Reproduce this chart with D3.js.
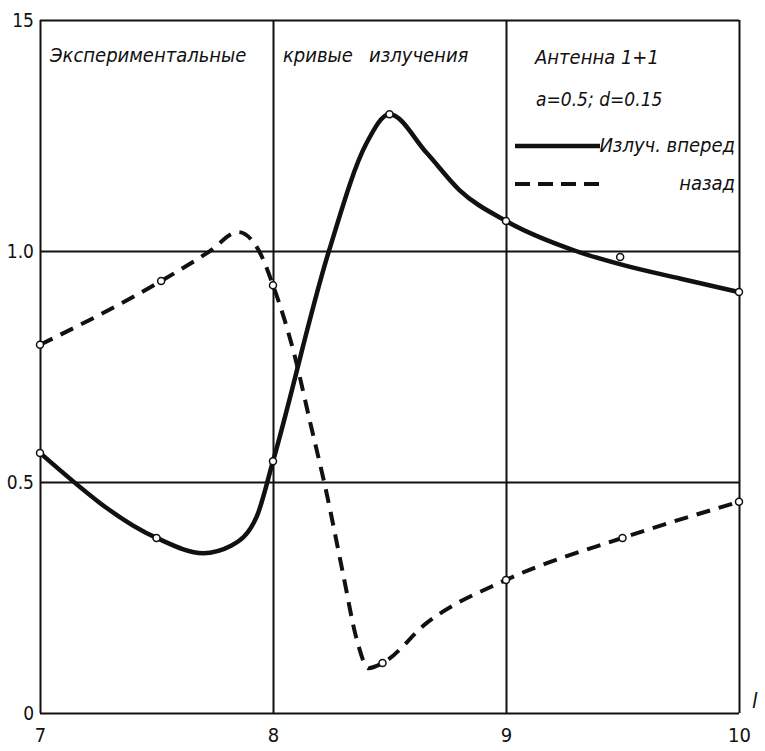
<!DOCTYPE html>
<html>
<head>
<meta charset="utf-8">
<script src="https://cdn.jsdelivr.net/npm/d3@7"></script>
<style>
  body { margin: 0; background: #fff; }
  svg { display: block; }
  .hand { font-family: "DejaVu Sans Condensed", "Liberation Sans Narrow", "DejaVu Sans", sans-serif; font-style: italic; fill: #111; }
  .tick text { font-family: "Liberation Sans Narrow", "DejaVu Sans Condensed", sans-serif; fill: #111; }
</style>
</head>
<body>
<script>
const width = 765;
const height = 751;

// Axis ticks and labels (as printed).
const xTicks = [7, 8, 9, 10];
const yTicks = [0, 0.5, 1.0, 1.5];
const yTickLabels = ['0', '0.5', '1.0', '15'];

// Measured points (small circles).
const forwardX = [7, 7.5, 8, 8.5, 9, 9.49, 10];
const forwardY = [0.563, 0.379, 0.545, 1.296, 1.065, 0.987, 0.911];
const backwardX = [7, 7.52, 8, 8.47, 9, 9.5, 10];
const backwardY = [0.797, 0.935, 0.926, 0.108, 0.288, 0.379, 0.457];

// Drawn curves.
const forwardCurveX = [7, 7.5, 7.7, 7.82, 7.93, 8, 8.24, 8.4, 8.5, 8.66, 8.8, 9, 9.3, 9.5, 9.75, 10];
const forwardCurveY = [0.563, 0.379, 0.346, 0.362, 0.425, 0.545, 1.0, 1.232, 1.296, 1.212, 1.132, 1.065, 1.0, 0.97, 0.94, 0.911];
const backwardCurveX = [7, 7.52, 7.73, 7.85, 7.94, 8, 8.09, 8.16, 8.23, 8.3, 8.36, 8.41, 8.47, 8.66, 9, 9.5, 10];
const backwardCurveY = [0.797, 0.935, 1.0, 1.041, 1.0, 0.926, 0.779, 0.628, 0.476, 0.303, 0.158, 0.097, 0.108, 0.195, 0.288, 0.379, 0.457];

const margin = { top: 20, right: 26, bottom: 38, left: 40 };

let svg = d3
  .select('body')
  .append('svg')
  .attr('width', width)
  .attr('height', height);

let xScale = d3
  .scaleLinear()
  .domain([7, 10])
  .range([margin.left, width - margin.right]);

let yScale = d3
  .scaleLinear()
  .domain([0, 1.5])
  .range([height - margin.bottom, margin.top]);

// Grid lines (and frame) drawn through axes.
let gridX = svg
  .append('g')
  .attr('transform', `translate(0, ${height - margin.bottom})`)
  .call(
    d3.axisBottom(xScale)
      .tickValues(xTicks)
      .tickSize(-(height - margin.bottom - margin.top))
      .tickFormat('')
  );
gridX.select('.domain').remove();
gridX.selectAll('.tick line').attr('stroke', '#111').attr('stroke-width', 2);

let gridY = svg
  .append('g')
  .attr('transform', `translate(${margin.left}, 0)`)
  .call(
    d3.axisLeft(yScale)
      .tickValues(yTicks)
      .tickSize(-(width - margin.right - margin.left))
      .tickFormat('')
  );
gridY.select('.domain').remove();
gridY.selectAll('.tick line').attr('stroke', '#111').attr('stroke-width', 2);

// Tick labels.
let xAxis = svg
  .append('g')
  .attr('transform', `translate(0, ${height - margin.bottom})`)
  .call(d3.axisBottom(xScale).tickValues(xTicks).tickSize(0).tickPadding(15).tickFormat(d3.format('d')));
xAxis.select('.domain').remove();
xAxis.selectAll('text').attr('font-size', 20);

let yAxis = svg
  .append('g')
  .attr('transform', `translate(${margin.left}, 0)`)
  .call(
    d3.axisLeft(yScale)
      .tickValues(yTicks)
      .tickSize(0)
      .tickPadding(6)
      .tickFormat((d, i) => yTickLabels[i])
  );
yAxis.select('.domain').remove();
yAxis.selectAll('text').attr('font-size', 19);

// Curves.
let line = d3
  .line()
  .x((d) => xScale(d[0]))
  .y((d) => yScale(d[1]))
  .curve(d3.curveMonotoneX);

svg
  .append('path')
  .datum(backwardCurveX.map((x, i) => [x, backwardCurveY[i]]))
  .attr('d', line)
  .attr('fill', 'none')
  .attr('stroke', '#111')
  .attr('stroke-width', 4)
  .attr('stroke-dasharray', '14 9');

svg
  .append('path')
  .datum(forwardCurveX.map((x, i) => [x, forwardCurveY[i]]))
  .attr('d', line)
  .attr('fill', 'none')
  .attr('stroke', '#111')
  .attr('stroke-width', 4.5);

// Measured points.
let points = forwardX
  .map((x, i) => [x, forwardY[i]])
  .concat(backwardX.map((x, i) => [x, backwardY[i]]));

svg
  .selectAll('circle')
  .data(points)
  .join('circle')
  .attr('cx', (d) => xScale(d[0]))
  .attr('cy', (d) => yScale(d[1]))
  .attr('r', 3.5)
  .attr('fill', '#fff')
  .attr('stroke', '#111')
  .attr('stroke-width', 1.5);

// Hand-lettered titles.
svg.append('text').attr('class', 'hand').attr('x', 50).attr('y', 62).attr('font-size', 20)
  .text('Экспериментальные');
svg.append('text').attr('class', 'hand').attr('x', 283).attr('y', 62).attr('font-size', 20)
  .text('кривые');
svg.append('text').attr('class', 'hand').attr('x', 369).attr('y', 62).attr('font-size', 20)
  .text('излучения');
svg.append('text').attr('class', 'hand').attr('x', 535).attr('y', 64).attr('font-size', 20)
  .text('Антенна 1+1');
svg.append('text').attr('class', 'hand').attr('x', 536).attr('y', 106).attr('font-size', 19)
  .text('a=0.5;  d=0.15');

// Legend.
svg.append('line').attr('x1', 515).attr('x2', 600).attr('y1', 146).attr('y2', 146)
  .attr('stroke', '#111').attr('stroke-width', 4.5);
svg.append('text').attr('class', 'hand').attr('x', 735).attr('y', 152).attr('text-anchor', 'end').attr('font-size', 20)
  .text('Излуч. вперед');
svg.append('line').attr('x1', 515).attr('x2', 600).attr('y1', 184).attr('y2', 184)
  .attr('stroke', '#111').attr('stroke-width', 4).attr('stroke-dasharray', '15 8');
svg.append('text').attr('class', 'hand').attr('x', 735).attr('y', 190).attr('text-anchor', 'end').attr('font-size', 20)
  .text('назад');

// Axis name.
svg.append('text').attr('class', 'hand').attr('x', 752).attr('y', 708).attr('font-size', 22)
  .text('l');
</script>
</body>
</html>
